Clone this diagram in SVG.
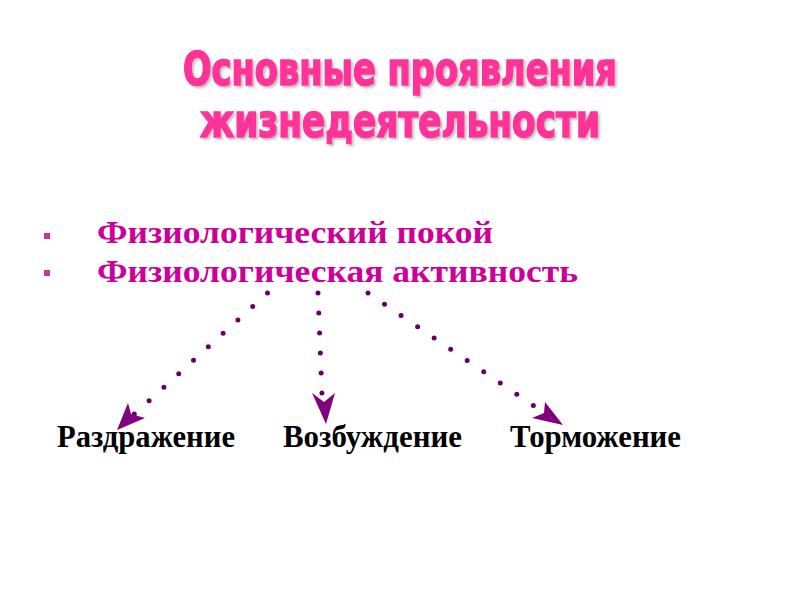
<svg xmlns="http://www.w3.org/2000/svg" width="800" height="600" viewBox="0 0 800 600">
<defs>
<filter id="sh" x="-5%" y="-20%" width="110%" height="140%">
<feDropShadow dx="2" dy="2" stdDeviation="0.8" flood-color="#999" flood-opacity="0.6"/>
</filter>
</defs>
<style>
.title{font-family:"DejaVu Sans Condensed","DejaVu Sans",sans-serif;font-stretch:condensed;font-weight:bold;font-size:47px;fill:#FF3399;stroke:#FF3399;stroke-width:1.6;text-anchor:middle}
.item{font-family:"Liberation Serif","Times New Roman",serif;font-weight:bold;font-size:32px;fill:#CC0099}
.node{font-family:"Liberation Serif","Times New Roman",serif;font-weight:bold;font-size:31px;fill:#000}
.dots{fill:none;stroke:#660066;stroke-width:5;stroke-linecap:round;stroke-dasharray:0 20}
.head{fill:#800080}
.bullet{fill:#CC3399}
</style>
<rect width="800" height="600" fill="#fff"/>
<g id="title" filter="url(#sh)">
<text class="title" x="400" y="85" textLength="434" lengthAdjust="spacingAndGlyphs">Основные проявления</text>
<text class="title" x="400" y="137" textLength="400" lengthAdjust="spacingAndGlyphs">жизнедеятельности</text>
</g>
<g id="list">
<rect class="bullet" x="44" y="233" width="6" height="6"/>
<rect class="bullet" x="44" y="270" width="6" height="6"/>
<text class="item" x="97" y="243" textLength="396" lengthAdjust="spacingAndGlyphs">Физиологический покой</text>
<text class="item" x="97" y="282" textLength="481" lengthAdjust="spacingAndGlyphs">Физиологическая активность</text>
</g>
<g id="connectors">
<path class="dots" d="M267.5,293 L130,418"/>
<path class="dots" d="M318,293 L322,395"/>
<path class="dots" d="M368,293 L537,408"/>
<path class="head" d="M117,430 L128,403 L131,414 L145,418 Z"/>
<path class="head" d="M326,424 L312,393 L324,402 L335,393 Z"/>
<path class="head" d="M563,425 L532,418 L544,413 L545,402 Z"/>
</g>
<g id="node-razdrazhenie"><text class="node" x="57" y="447" textLength="178" lengthAdjust="spacingAndGlyphs">Раздражение</text></g>
<g id="node-vozbuzhdenie"><text class="node" x="283" y="447" textLength="179" lengthAdjust="spacingAndGlyphs">Возбуждение</text></g>
<g id="node-tormozhenie"><text class="node" x="510" y="447" textLength="171" lengthAdjust="spacingAndGlyphs">Торможение</text></g>
</svg>
